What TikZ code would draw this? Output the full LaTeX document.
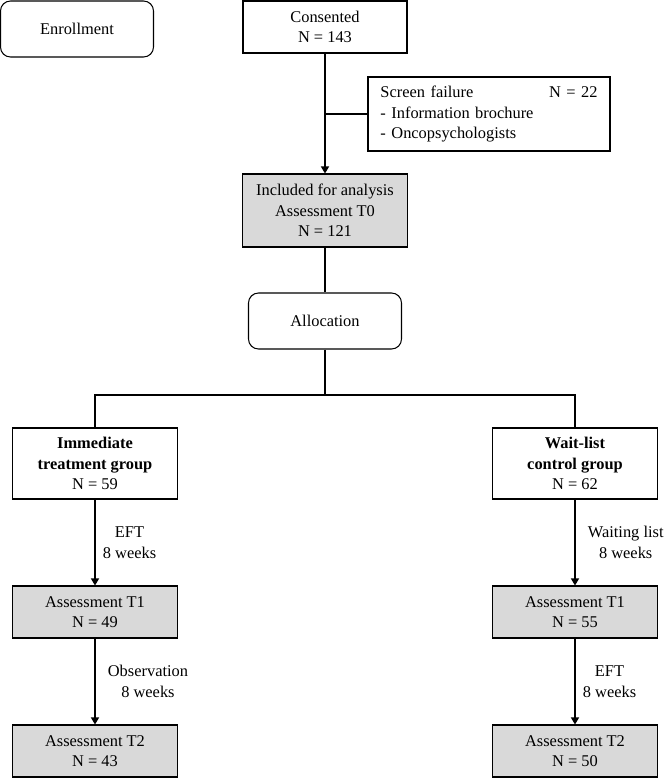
\documentclass[tikz,border=0pt]{standalone}
\usepackage{fontspec}
\setmainfont{Liberation Serif}
\usetikzlibrary{arrows.meta}

\begin{document}
\begin{tikzpicture}[x=0.03cm, y=-0.03cm, >={Triangle[length=2.1mm,width=2.4mm]},
    every node/.style={font=\fontsize{14}{17.5}\selectfont},
    stagebox/.style={draw, rounded corners=3mm, line width=0.9pt, align=center,
        minimum width=4.59cm, minimum height=1.68cm},
    flowbox/.style={draw, line width=0.9pt, align=center, inner sep=2pt},
    groupbox/.style={flowbox, minimum width=4.95cm, minimum height=2.13cm},
    assessbox/.style={flowbox, fill=gray!30, minimum width=4.95cm, minimum height=1.56cm},
    link/.style={line width=1.1pt}]
    \useasboundingbox (0,0) rectangle (666,779);

    % Enrollment part
    \node[stagebox] (enroll) at (77,29) {Enrollment};
    \node[flowbox, minimum width=4.92cm, minimum height=1.56cm] (consent) at (325,27)
        {Consented\\N = 143};
    \node[flowbox, minimum width=7.26cm, minimum height=2.22cm, text width=6.51cm, align=left]
        (screen) at (489,114)
        {Screen failure\hfill N = 22\\- Information brochure\\- Oncopsychologists};
    \node[flowbox, fill=gray!30, minimum width=4.95cm, minimum height=2.19cm] (incl) at (325,210.5)
        {Included for analysis\\Assessment T0\\N = 121};

    % Allocation part
    \node[stagebox] (alloc) at (325,321) {Allocation};
    \coordinate (fork) at (325,395);

    % Immediate treatment arm
    \node[groupbox] (immed) at (95,463.5) {\textbf{Immediate}\\\textbf{treatment group}\\N = 59};
    \node[assessbox] (t1a) at (95,612) {Assessment T1\\N = 49};
    \node[assessbox] (t2a) at (95,751) {Assessment T2\\N = 43};

    % Wait-list arm
    \node[groupbox] (wait) at (575,463.5) {\textbf{Wait-list}\\\textbf{control group}\\N = 62};
    \node[assessbox] (t1b) at (575,612) {Assessment T1\\N = 55};
    \node[assessbox] (t2b) at (575,751) {Assessment T2\\N = 50};

    % Connectors
    \draw[link, ->] (consent) -- (incl);
    \draw[link] (screen.west) -- (screen.west -| consent.south);
    \draw[link] (incl) -- (alloc);
    \draw[link] (alloc) -- (fork);
    \draw[link] (immed.north) |- (fork) -| (wait.north);

    \draw[link, ->] (immed) -- node[right=1mm, align=center] {EFT\\8 weeks} (t1a);
    \draw[link, ->] (t1a) -- node[right=2.5mm, align=center] {Observation\\8 weeks} (t2a);
    \draw[link, ->] (wait) -- node[right=2.5mm, align=center] {Waiting list\\8 weeks} (t1b);
    \draw[link, ->] (t1b) -- node[right=1mm, align=center] {EFT\\8 weeks} (t2b);
\end{tikzpicture}
\end{document}
